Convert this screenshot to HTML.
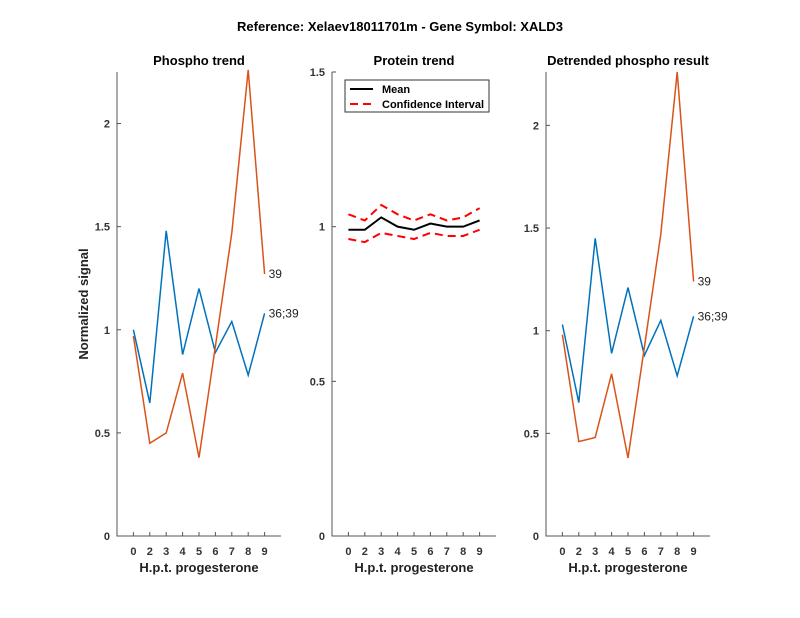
<!DOCTYPE html>
<html><head><meta charset="utf-8"><style>
body{margin:0;background:#fff}
svg{display:block;font-family:"Liberation Sans",Arial,sans-serif}
</style></head><body>
<svg id="s" width="800" height="618" xmlns="http://www.w3.org/2000/svg"></svg>
<script>
const s=document.getElementById('s');let h='';
h+='<rect width="800" height="618" fill="#fff"/>';
h+='<text x="400" y="31" font-size="13" font-weight="bold" text-anchor="middle">Reference:  Xelaev18011701m - Gene Symbol:  XALD3</text>';
const labs=['0','2','3','4','5','6','7','8','9'];
function panel(x0,x1,ymax,ticks,title,series,ylab){
  const y0=536,yt=72;
  const X=i=>x0+(i+1)*(x1-x0)/10, Y=v=>y0-(v/ymax)*(y0-yt);
  h+=`<text x="${(x0+x1)/2}" y="65" font-size="13" font-weight="bold" text-anchor="middle">${title}</text>`;
  h+=`<path d="M${x0},${yt}V${y0}H${x1}" fill="none" stroke="#555" stroke-width="1"/>`;
  ticks.forEach(t=>{const y=Y(t);h+=`<line x1="${x0}" x2="${x0+4}" y1="${y}" y2="${y}" stroke="#555"/><text x="${x0-7}" y="${y+4}" font-size="11" font-weight="bold" text-anchor="end" fill="#333">${t}</text>`;});
  for(let i=0;i<9;i++){const x=X(i);h+=`<line x1="${x}" x2="${x}" y1="${y0}" y2="${y0-4}" stroke="#555"/><text x="${x}" y="${y0+19}" font-size="11" font-weight="bold" text-anchor="middle" fill="#333">${labs[i]}</text>`;}
  h+=`<text x="${(x0+x1)/2}" y="${y0+36}" font-size="13" font-weight="bold" text-anchor="middle" fill="#222">H.p.t. progesterone</text>`;
  series.forEach(sr=>{h+=`<polyline points="${sr.d.map((v,i)=>X(i)+','+Y(v)).join(' ')}" fill="none" stroke="${sr.c}" stroke-width="${sr.w||1.5}" ${sr.dash?'stroke-dasharray="8,5"':''}/>`;
    if(sr.lab)h+=`<text x="${X(8)+4}" y="${Y(sr.d[8])+4}" font-size="12" fill="#222">${sr.lab}</text>`;});
  if(ylab)h+=`<text transform="translate(${x0-29},${(y0+yt)/2}) rotate(-90)" font-size="13" font-weight="bold" text-anchor="middle" fill="#222">Normalized signal</text>`;
}
const B='#0072BD',O='#D95319';
panel(117,281,2.25,[0,0.5,1,1.5,2],'Phospho trend',[
 {c:B,d:[1.00,0.645,1.48,0.88,1.20,0.89,1.04,0.78,1.08],lab:'36;39'},
 {c:O,d:[0.97,0.45,0.50,0.79,0.38,0.92,1.47,2.26,1.27],lab:'39'}],true);
panel(332,496,1.5,[0,0.5,1,1.5],'Protein trend',[
 {c:'#f00',dash:1,w:2,d:[1.04,1.02,1.07,1.04,1.02,1.04,1.02,1.03,1.06]},
 {c:'#f00',dash:1,w:2,d:[0.96,0.95,0.98,0.97,0.96,0.98,0.97,0.97,0.99]},
 {c:'#000',w:2,d:[0.99,0.99,1.03,1.00,0.99,1.01,1.00,1.00,1.02]}]);
panel(546,710,2.26,[0,0.5,1,1.5,2],'Detrended phospho result',[
 {c:B,d:[1.03,0.65,1.45,0.89,1.21,0.88,1.05,0.78,1.07],lab:'36;39'},
 {c:O,d:[0.98,0.46,0.48,0.79,0.38,0.92,1.47,2.26,1.24],lab:'39'}]);
h+='<rect x="345" y="80" width="144" height="32" fill="#fff" stroke="#333"/>';
h+='<line x1="350" x2="373" y1="89" y2="89" stroke="#000" stroke-width="2"/><text x="382" y="93" font-size="11" font-weight="bold">Mean</text>';
h+='<line x1="350" x2="373" y1="104" y2="104" stroke="#f00" stroke-width="2" stroke-dasharray="8,5"/><text x="382" y="108" font-size="11" font-weight="bold">Confidence Interval</text>';
s.innerHTML=h;
</script>
</body></html>
